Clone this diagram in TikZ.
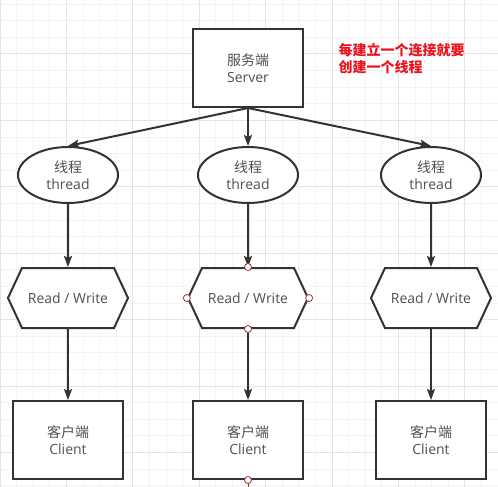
\documentclass[tikz,border=0pt]{standalone}
\usepackage{fontspec}
\setmainfont{Open Sans}
\newfontfamily\cjk{Noto Sans CJK SC}
\usetikzlibrary{arrows.meta, positioning, shapes.geometric, shapes.symbols}

\definecolor{linegray}{RGB}{51,51,51}
\definecolor{textgray}{RGB}{80,80,80}
\definecolor{minorgrid}{RGB}{244,244,244}
\definecolor{majorgrid}{RGB}{228,228,228}
\definecolor{notered}{RGB}{235,20,30}
\definecolor{pinred}{RGB}{150,55,55}

\begin{document}
\begin{tikzpicture}[x=1pt, y=-1pt, node distance=100pt, on grid,
    font=\fontsize{14}{17}\selectfont,
    base/.style={draw=linegray, line width=2pt, fill=white, text=textgray, align=center, inner sep=0pt},
    box/.style={base, rectangle, minimum width=110pt, minimum height=78pt},
    thread/.style={base, ellipse, minimum width=100pt, minimum height=56pt},
    rw/.style={base, signal, signal to=west and east, signal pointer angle=130, minimum width=120pt, minimum height=60pt},
    flow/.style={draw=linegray, line width=2pt, -{Stealth[length=11pt, width=8pt, inset=2pt]}},
    pin/.style={circle, draw=pinred, fill=white, line width=0.8pt, minimum size=7pt, inner sep=0pt}]

    \useasboundingbox (0,0) rectangle (498,487);

    % background grid
    \foreach \x in {0,16.6,...,498} \draw[minorgrid, line width=1pt] (\x,0) -- (\x,487);
    \foreach \y in {4.2,20.8,...,487} \draw[minorgrid, line width=1pt] (0,\y) -- (498,\y);
    \foreach \x in {0,66.4,...,498} \draw[majorgrid, line width=1pt] (\x,0) -- (\x,487);
    \foreach \y in {54,120.4,...,487} \draw[majorgrid, line width=1pt] (0,\y) -- (498,\y);

    \node[box] (server) at (248,68) {{\cjk 服务端}\\Server};
    \node[anchor=west, align=left, text=notered, font=\fontsize{14}{17}\cjk\bfseries] (note) at (335,59) {每建立一个连接就要\\创建一个线程};

    \node[thread] (thread2) [below=107pt of server] {{\cjk 线程}\\thread};
    \node[thread] (thread1) [left=180pt of thread2] {{\cjk 线程}\\thread};
    \node[thread] (thread3) [right=183pt of thread2] {{\cjk 线程}\\thread};

    \node[rw] (rw1) [below=123pt of thread1] {Read / Write};
    \node[rw] (rw2) [below=123pt of thread2] {Read / Write};
    \node[rw] (rw3) [below=123pt of thread3] {Read / Write};

    \node[box] (client1) [below=142pt of rw1] {{\cjk 客户端}\\Client};
    \node[box] (client2) [below=142pt of rw2] {{\cjk 客户端}\\Client};
    \node[box] (client3) [below=142pt of rw3] {{\cjk 客户端}\\Client};

    \path
    (server.south) edge[flow] (thread1.north)
    (server.south) edge[flow] (thread2.north)
    (server.south) edge[flow] (thread3.north)
    (thread1) edge[flow] (rw1)
    (thread2) edge[flow] (rw2)
    (thread3) edge[flow] (rw3)
    (rw1) edge[flow] (client1)
    (rw2) edge[flow] (client2)
    (rw3) edge[flow] (client3);

    % connection points of the selected shape
    \coordinate (tail) at (248,487);
    \draw[pinred, line width=1pt] (client2.south) -- (tail);
    \foreach \a in {north, south, east, west} \node[pin] at (rw2.\a) {};
    \node[pin] (pinc) at (client2.south) {};
\end{tikzpicture}
\end{document}
